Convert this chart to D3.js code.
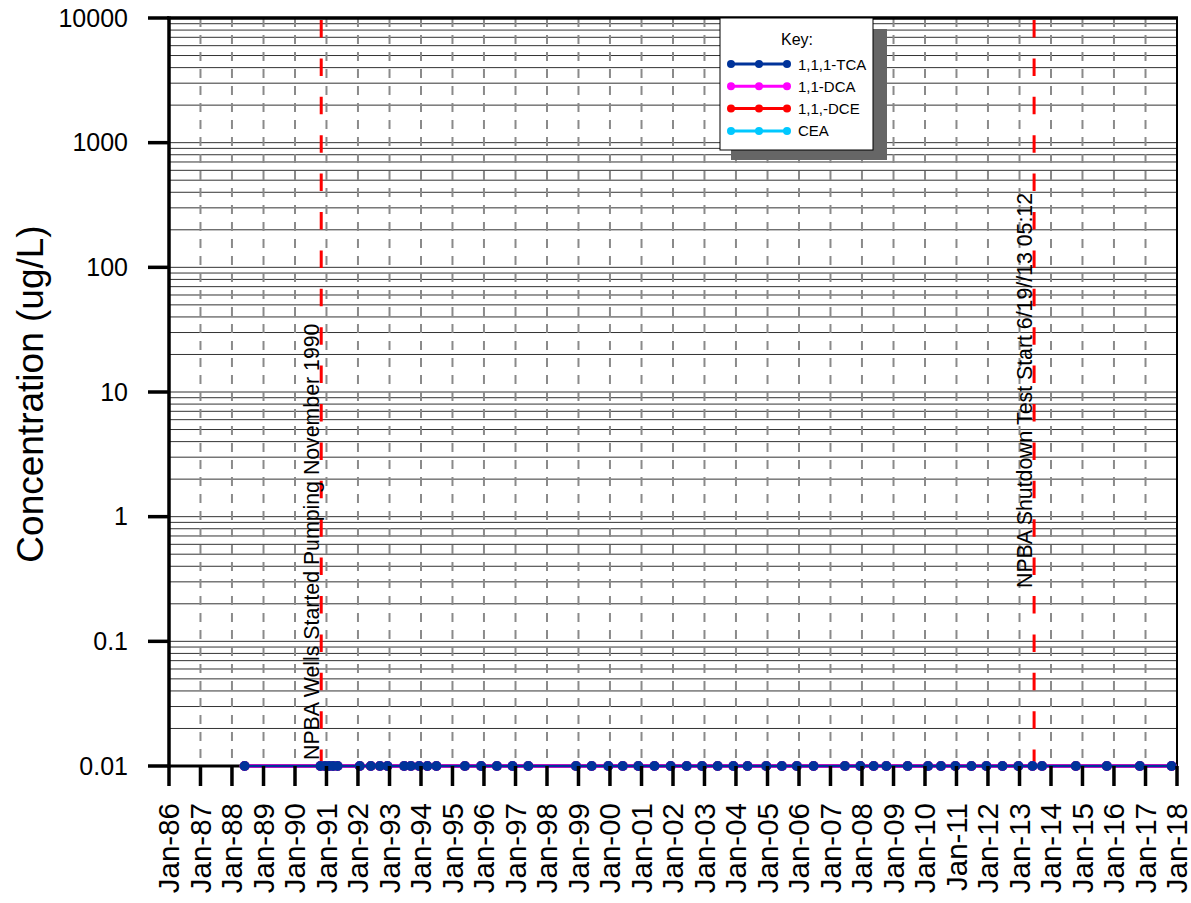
<!DOCTYPE html>
<html>
<head>
<meta charset="utf-8">
<script src="https://cdn.jsdelivr.net/npm/d3@7"></script>
<style>
  body { margin: 0; background: #fff; }
  svg { display: block; font-family: 'Liberation Sans', Arial, sans-serif; }
</style>
</head>
<body>
<div id="chart"></div>
<script>
// sample dates (all results are non-detects plotted at 0.01 ug/L)
const sampleDates = [
  '1988-05-27', '1990-10-23', '1990-12-15', '1991-02-01', '1991-03-18', '1991-05-10',
  '1992-01-22', '1992-05-29', '1992-09-11', '1992-12-08', '1993-06-20', '1993-09-06',
  '1993-12-11', '1994-03-16', '1994-06-29', '1995-05-25', '1995-11-29', '1996-05-30',
  '1996-11-27', '1997-05-29', '1998-12-03', '1999-06-03', '1999-12-13', '2000-05-28',
  '2000-11-25', '2001-05-31', '2001-12-05', '2002-06-09', '2002-12-04', '2003-06-03',
  '2003-12-02', '2004-05-14', '2004-12-17', '2005-06-16', '2005-12-07', '2006-06-19',
  '2007-06-17', '2007-12-13', '2008-05-16', '2008-10-10', '2009-06-13', '2010-02-05',
  '2010-07-05', '2010-12-19', '2011-06-23', '2011-12-14', '2012-06-17', '2012-12-19',
  '2013-05-31', '2013-09-19', '2014-10-16', '2015-10-10', '2016-10-27', '2017-10-30',
]

const tcaValues = [
  0.01, 0.01, 0.01, 0.01, 0.01, 0.01, 0.01, 0.01, 0.01, 0.01, 0.01, 0.01, 0.01, 0.01, 0.01, 0.01, 0.01, 0.01,
  0.01, 0.01, 0.01, 0.01, 0.01, 0.01, 0.01, 0.01, 0.01, 0.01, 0.01, 0.01, 0.01, 0.01, 0.01, 0.01, 0.01, 0.01,
  0.01, 0.01, 0.01, 0.01, 0.01, 0.01, 0.01, 0.01, 0.01, 0.01, 0.01, 0.01, 0.01, 0.01, 0.01, 0.01, 0.01, 0.01,
]
const dcaValues = [
  0.01, 0.01, 0.01, 0.01, 0.01, 0.01, 0.01, 0.01, 0.01, 0.01, 0.01, 0.01, 0.01, 0.01, 0.01, 0.01, 0.01, 0.01,
  0.01, 0.01, 0.01, 0.01, 0.01, 0.01, 0.01, 0.01, 0.01, 0.01, 0.01, 0.01, 0.01, 0.01, 0.01, 0.01, 0.01, 0.01,
  0.01, 0.01, 0.01, 0.01, 0.01, 0.01, 0.01, 0.01, 0.01, 0.01, 0.01, 0.01, 0.01, 0.01, 0.01, 0.01, 0.01, 0.01,
]
const dceValues = [
  0.01, 0.01, 0.01, 0.01, 0.01, 0.01, 0.01, 0.01, 0.01, 0.01, 0.01, 0.01, 0.01, 0.01, 0.01, 0.01, 0.01, 0.01,
  0.01, 0.01, 0.01, 0.01, 0.01, 0.01, 0.01, 0.01, 0.01, 0.01, 0.01, 0.01, 0.01, 0.01, 0.01, 0.01, 0.01, 0.01,
  0.01, 0.01, 0.01, 0.01, 0.01, 0.01, 0.01, 0.01, 0.01, 0.01, 0.01, 0.01, 0.01, 0.01, 0.01, 0.01, 0.01, 0.01,
]
const ceaValues = [
  0.01, 0.01, 0.01, 0.01, 0.01, 0.01, 0.01, 0.01, 0.01, 0.01, 0.01, 0.01, 0.01, 0.01, 0.01, 0.01, 0.01, 0.01,
  0.01, 0.01, 0.01, 0.01, 0.01, 0.01, 0.01, 0.01, 0.01, 0.01, 0.01, 0.01, 0.01, 0.01, 0.01, 0.01, 0.01, 0.01,
  0.01, 0.01, 0.01, 0.01, 0.01, 0.01, 0.01, 0.01, 0.01, 0.01, 0.01, 0.01, 0.01, 0.01, 0.01, 0.01, 0.01, 0.01,
]

const seriesNames = ['1,1,1-TCA', '1,1-DCA', '1,1,-DCE', 'CEA']
const seriesColors = ['#00339a', '#ff00ff', '#ff0000', '#00c8ff']
const seriesValues = [tcaValues, dcaValues, dceValues, ceaValues]

const yTicks = [0.01, 0.1, 1, 10, 100, 1000, 10000]
const yTickLabels = ['0.01', '0.1', '1', '10', '100', '1000', '10000']
const xDomain = ['1986-01-01', '2018-01-01']

const eventDates = ['1990-11-01', '2013-06-19']
const eventLabels = ['NPBA Wells Started Pumping November 1990', 'NPBA Shutdown Test Start 6/19//13 05:12']

const W = 1191
const H = 903
const LEFT = 169
const RIGHT = 1177
const TOP = 18
const BOTTOM = 766

const parse = d3.utcParse('%Y-%m-%d')

const x = d3.scaleUtc().domain(xDomain.map(parse)).range([LEFT, RIGHT])
const y = d3.scaleLog().domain([0.01, 10000]).range([BOTTOM, TOP])

const svg = d3.select('#chart').append('svg').attr('width', W).attr('height', H)

// horizontal grid: every 1..9 x decade
let gridValues = []
for (let e = -2; e <= 3; e++) {
  for (let m = 1; m <= 9; m++) gridValues.push(m * Math.pow(10, e))
}
svg.append('g')
  .selectAll('line')
  .data(gridValues)
  .join('line')
  .attr('x1', LEFT)
  .attr('x2', RIGHT)
  .attr('y1', d => y(d))
  .attr('y2', d => y(d))
  .attr('stroke', '#333')
  .attr('stroke-width', 1)

// vertical dashed grid at each January
const years = x.ticks(d3.utcYear.every(1))
svg.append('g')
  .selectAll('line')
  .data(years)
  .join('line')
  .attr('x1', d => x(d))
  .attr('x2', d => x(d))
  .attr('y1', TOP)
  .attr('y2', BOTTOM)
  .attr('stroke', '#8a8a8a')
  .attr('stroke-width', 2)
  .attr('stroke-dasharray', '9,8')

// plot border
svg.append('line').attr('x1', RIGHT).attr('x2', RIGHT).attr('y1', TOP).attr('y2', BOTTOM)
  .attr('stroke', 'black').attr('stroke-width', 2)
svg.append('line').attr('x1', LEFT - 2).attr('x2', RIGHT + 1).attr('y1', TOP).attr('y2', TOP)
  .attr('stroke', 'black').attr('stroke-width', 3.5)

// event lines
svg.append('g')
  .selectAll('line')
  .data(eventDates)
  .join('line')
  .attr('x1', d => x(parse(d)))
  .attr('x2', d => x(parse(d)))
  .attr('y1', TOP + 2)
  .attr('y2', BOTTOM)
  .attr('stroke', '#ff0000')
  .attr('stroke-width', 3)
  .attr('stroke-dasharray', '17.5,20.9')

const eventY = [760, 588]
svg.append('g')
  .selectAll('text')
  .data(eventLabels)
  .join('text')
  .attr('transform', (d, i) => `translate(${x(parse(eventDates[i])) - 2}, ${eventY[i]}) rotate(-90)`)
  .style('font-size', '21.3px')
  .style('fill', 'black')
  .text(d => d)

// series, drawn bottom to top so 1,1,1-TCA ends up on top
const line = d3.line()
  .x(d => x(d.date))
  .y(d => y(d.value))

const series = seriesNames.map((name, i) => ({
  name: name,
  color: seriesColors[i],
  points: sampleDates.map((s, j) => ({ date: parse(s), value: seriesValues[i][j] })),
}))
const drawOrder = series.slice().reverse()

drawOrder.forEach(s => {
  const top = s.name === '1,1,1-TCA'
  svg.append('path')
    .attr('d', line(s.points))
    .attr('fill', 'none')
    .attr('stroke', s.color)
    .attr('stroke-width', top ? 2.5 : 3.5)
  svg.append('g')
    .selectAll('circle')
    .data(s.points)
    .join('circle')
    .attr('cx', d => x(d.date))
    .attr('cy', d => y(d.value))
    .attr('r', 5)
    .attr('fill', s.color)
})

// axes
svg.append('line').attr('x1', LEFT).attr('x2', LEFT).attr('y1', TOP - 1.5).attr('y2', BOTTOM + 1.5)
  .attr('stroke', 'black').attr('stroke-width', 3.5)

// bottom axis line, under the data
svg.insert('line', 'path').attr('x1', LEFT).attr('x2', RIGHT).attr('y1', BOTTOM).attr('y2', BOTTOM)
  .attr('stroke', 'black').attr('stroke-width', 3)

const yAxis = svg.append('g')
yAxis.selectAll('line')
  .data(yTicks)
  .join('line')
  .attr('x1', LEFT - 21)
  .attr('x2', LEFT)
  .attr('y1', d => y(d))
  .attr('y2', d => y(d))
  .attr('stroke', 'black')
  .attr('stroke-width', 3.5)
yAxis.selectAll('text')
  .data(yTicks)
  .join('text')
  .attr('x', 128)
  .attr('y', d => y(d))
  .attr('dy', '0.35em')
  .attr('text-anchor', 'end')
  .style('font-size', '25px')
  .style('fill', 'black')
  .text((d, i) => yTickLabels[i])

const xAxis = svg.append('g')
xAxis.selectAll('line')
  .data(years)
  .join('line')
  .attr('x1', d => x(d))
  .attr('x2', d => x(d))
  .attr('y1', BOTTOM)
  .attr('y2', BOTTOM + 20)
  .attr('stroke', 'black')
  .attr('stroke-width', 3.5)
xAxis.selectAll('text')
  .data(years)
  .join('text')
  .attr('transform', d => `translate(${x(d)}, 803) rotate(-90)`)
  .attr('dy', '0.35em')
  .attr('text-anchor', 'end')
  .style('font-size', '29.5px')
  .style('fill', 'black')
  .text(d => d3.utcFormat('Jan-%y')(d))

// y title
svg.append('text')
  .attr('transform', 'translate(30, 394) rotate(-90)')
  .attr('dy', '0.35em')
  .attr('text-anchor', 'middle')
  .style('font-size', '37px')
  .style('fill', 'black')
  .text('Concentration (ug/L)')

// legend
const lg = svg.append('g').attr('transform', 'translate(720, 18)')
lg.append('rect').attr('x', 11).attr('y', 11).attr('width', 156).attr('height', 131).attr('fill', '#666')
lg.append('rect').attr('x', 0).attr('y', 0).attr('width', 153).attr('height', 132)
  .attr('fill', 'white').attr('stroke', 'black').attr('stroke-width', 1)
lg.append('text').attr('x', 77).attr('y', 27).attr('text-anchor', 'middle')
  .style('font-size', '16px').text('Key:')

const items = lg.selectAll('.legendItem')
  .data(series)
  .join('g')
  .attr('class', 'legendItem')
  .attr('transform', (d, i) => `translate(0, ${46 + i * 22.3})`)
items.append('line').attr('x1', 11).attr('x2', 67).attr('stroke', d => d.color).attr('stroke-width', 3)
items.selectAll('circle')
  .data(d => [11, 39, 67].map(cx => ({ cx: cx, color: d.color })))
  .join('circle')
  .attr('cx', d => d.cx)
  .attr('r', 4)
  .attr('fill', d => d.color)
items.append('text').attr('x', 78).attr('y', 5.5).style('font-size', '15px').text(d => d.name)
</script>
</body>
</html>
